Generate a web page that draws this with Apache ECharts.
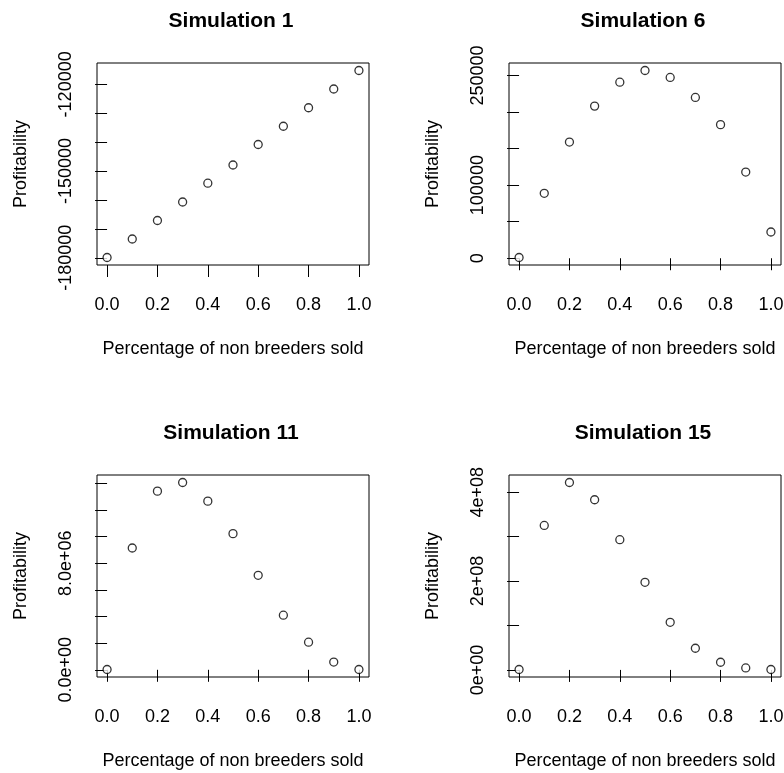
<!DOCTYPE html>
<html>
<head>
<meta charset="utf-8">
<title>Profitability simulations</title>
<script src="https://cdn.jsdelivr.net/npm/echarts@6/dist/echarts.min.js"></script>
<style>
  html, body { margin: 0; padding: 0; background: #fff; }
  #chart { width: 784px; height: 773px; }
</style>
</head>
<body>
<div id="chart"></div>
<script>
// Share of non breeders sold (x for every panel)
const pctSold = [0.0, 0.1, 0.2, 0.3, 0.4, 0.5, 0.6, 0.7, 0.8, 0.9, 1.0];
const xTicks = [0.0, 0.2, 0.4, 0.6, 0.8, 1.0];

// Profitability for each simulation
const sim1 = [-179900, -173500, -167100, -160700, -154200, -147900, -140800, -134500, -128100, -121600, -115200];
const sim6 = [1000, 88800, 158900, 208100, 240800, 256800, 247300, 219900, 182700, 117900, 35900];
const sim11 = [20000, 9140000, 13410000, 14060000, 12660000, 10220000, 7090000, 4100000, 2070000, 580000, 20000];
const sim15 = [900000, 325100000, 421800000, 382900000, 293000000, 197100000, 107200000, 48800000, 17300000, 4500000, 900000];

const panelTitles = ['Simulation 1', 'Simulation 6', 'Simulation 11', 'Simulation 15'];

// y axis tick positions and the subset that carries a label
const yTicks1 = [-180000, -170000, -160000, -150000, -140000, -130000, -120000];
const yLabelVals1 = [-180000, -150000, -120000];
const yLabelText1 = ['-180000', '-150000', '-120000'];

const yTicks6 = [0, 50000, 100000, 150000, 200000, 250000];
const yLabelVals6 = [0, 100000, 250000];
const yLabelText6 = ['0', '100000', '250000'];

const yTicks11 = [0, 2e6, 4e6, 6e6, 8e6, 10e6, 12e6, 14e6];
const yLabelVals11 = [0, 8e6];
const yLabelText11 = ['0.0e+00', '8.0e+06'];

const yTicks15 = [0, 1e8, 2e8, 3e8, 4e8];
const yLabelVals15 = [0, 2e8, 4e8];
const yLabelText15 = ['0e+00', '2e+08', '4e+08'];

const panels = [
  { data: sim1,  ticks: yTicks1,  lv: yLabelVals1,  lt: yLabelText1,  rect: [97, 63, 272, 202] },
  { data: sim6,  ticks: yTicks6,  lv: yLabelVals6,  lt: yLabelText6,  rect: [509, 63, 272, 202] },
  { data: sim11, ticks: yTicks11, lv: yLabelVals11, lt: yLabelText11, rect: [97, 475, 272, 202] },
  { data: sim15, ticks: yTicks15, lv: yLabelVals15, lt: yLabelText15, rect: [509, 475, 272, 202] }
];

const FONT = 'Liberation Sans, Arial, sans-serif';
const TXT = '#000';

// base-graphics style range: data extent padded by 4% each side
function padded(arr) {
  const lo = Math.min.apply(null, arr), hi = Math.max.apply(null, arr);
  const d = (hi - lo) * 0.04;
  return [lo - d, hi + d];
}

const option = {
  backgroundColor: '#fff',
  animation: false,
  title: [], grid: [], xAxis: [], yAxis: [], series: []
};

panels.forEach((p, i) => {
  const [l, t, w, h] = p.rect;
  const yr = padded(p.data);
  option.title.push({
    text: panelTitles[i],
    left: l + w / 2 - 2,
    top: t - 52,
    padding: 0,
    textAlign: 'center',
    textStyle: { fontFamily: FONT, fontSize: 21, fontWeight: 'bold', color: TXT }
  });
  option.grid.push({
    left: l, top: t, width: w, height: h,
    show: true, borderColor: '#000', borderWidth: 1, backgroundColor: 'transparent',
    containLabel: false, outerBoundsMode: 'none'
  });
  option.xAxis.push({
    type: 'value', gridIndex: i, position: 'bottom',
    min: -0.04, max: 1.04,
    name: 'Percentage of non breeders sold',
    nameLocation: 'middle', nameGap: 75,
    nameTextStyle: { fontFamily: FONT, fontSize: 18, color: TXT },
    axisLine: { show: false },
    axisTick: { show: true, inside: false, length: 12, customValues: xTicks,
                lineStyle: { color: '#000', width: 1 } },
    axisLabel: { show: true, margin: 31, customValues: xTicks,
                 fontFamily: FONT, fontSize: 18, color: TXT,
                 formatter: v => v.toFixed(1) },
    splitLine: { show: false }
  });
  const lt = p.lt, lv = p.lv;
  option.yAxis.push({
    type: 'value', gridIndex: i, position: 'left',
    min: yr[0], max: yr[1],
    name: 'Profitability',
    nameLocation: 'middle', nameGap: 67,
    nameTextStyle: { fontFamily: FONT, fontSize: 18, color: TXT },
    axisLine: { show: false },
    axisTick: { show: true, inside: false, length: 12, customValues: p.ticks,
                lineStyle: { color: '#000', width: 1 } },
    axisLabel: { show: true, margin: 22, rotate: 90, customValues: lv,
                 fontFamily: FONT, fontSize: 18, color: TXT,
                 formatter: v => {
                   let best = 0, bd = Infinity;
                   lv.forEach((x, k) => { const d = Math.abs(x - v); if (d < bd) { bd = d; best = k; } });
                   return lt[best];
                 } },
    splitLine: { show: false }
  });
  option.series.push({
    type: 'scatter', xAxisIndex: i, yAxisIndex: i,
    symbol: 'circle', symbolSize: 8,
    itemStyle: { color: '#fff', borderColor: '#000', borderWidth: 1.3 },
    data: pctSold.map((x, k) => [x, p.data[k]])
  });
});

const chart = echarts.init(document.getElementById('chart'), null, { renderer: 'canvas' });
chart.setOption(option);
</script>
</body>
</html>
